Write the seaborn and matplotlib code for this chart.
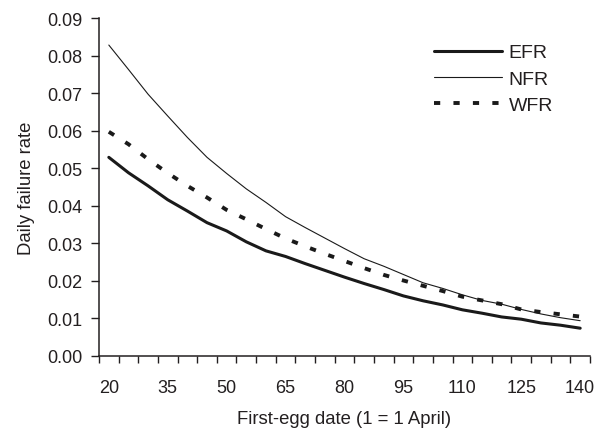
import matplotlib
matplotlib.use("Agg")
import matplotlib.pyplot as plt
import seaborn as sns
import pandas as pd
import numpy as np

# ---- data ----
days = [20, 25, 30, 35, 40, 45, 50, 55, 60, 65, 70, 75, 80, 85, 90, 95,
        100, 105, 110, 115, 120, 125, 130, 135, 140]
efr = [0.0529, 0.0488, 0.0453, 0.0416, 0.0386, 0.0355, 0.0333, 0.0304, 0.0280,
       0.0265, 0.0246, 0.0228, 0.0210, 0.0193, 0.0177, 0.0160, 0.0147, 0.0136,
       0.0123, 0.0114, 0.0104, 0.0098, 0.0088, 0.0082, 0.0074]
nfr = [0.0828, 0.0763, 0.0697, 0.0639, 0.0582, 0.0529, 0.0486, 0.0445, 0.0409,
       0.0371, 0.0342, 0.0314, 0.0286, 0.0259, 0.0239, 0.0217, 0.0195, 0.0180,
       0.0163, 0.0148, 0.0138, 0.0124, 0.0112, 0.0102, 0.0094]
wfr = [0.0597, 0.0564, 0.0524, 0.0487, 0.0453, 0.0422, 0.0389, 0.0364, 0.0338,
       0.0313, 0.0292, 0.0272, 0.0253, 0.0234, 0.0216, 0.0201, 0.0187, 0.0173,
       0.0158, 0.0148, 0.0138, 0.0124, 0.0117, 0.0111, 0.0105]
series_names = ["EFR", "NFR", "WFR"]
x_labels = [20, 35, 50, 65, 80, 95, 110, 125, 140]
y_ticks = [0.00, 0.01, 0.02, 0.03, 0.04, 0.05, 0.06, 0.07, 0.08, 0.09]

df = pd.DataFrame({"day": days, "EFR": efr, "NFR": nfr, "WFR": wfr})

sns.set_style("white")
plt.rcParams["font.family"] = ["Liberation Sans", "DejaVu Sans"]
txt = "#231f20"

fig = plt.figure(figsize=(5.97, 4.31), dpi=100)
ax = fig.add_axes([99 / 597, 1 - 357 / 431, (590 - 99) / 597, (357 - 19) / 431])

styles = {
    "EFR": dict(lw=2.2, color="#1a1a1a"),
    "NFR": dict(lw=0.8, color="#1a1a1a"),
    "WFR": dict(lw=2.8, color="#1a1a1a", dashes=(1.6, 3.4)),
}
for name in series_names:
    st = styles[name]
    line_kw = dict(linewidth=st["lw"], color=st["color"])
    sns.lineplot(data=df, x="day", y=name, ax=ax, label=name, **line_kw)
    if "dashes" in st:
        ax.lines[-1].set_dashes(st["dashes"])
        ax.lines[-1].set_dash_capstyle("butt")

ax.set_xlim(17.5, 142.5)
ax.set_ylim(0, 0.09)

# y axis
ax.set_yticks(y_ticks)
ax.set_yticklabels([f"{v:.2f}" for v in y_ticks])
ax.tick_params(axis="y", which="major", direction="out", length=6, width=1.0,
               color=txt, pad=6, labelsize=13, labelcolor=txt, left=True)

# x axis: tick marks at category boundaries, labels at centres
ax.set_xticks(x_labels)
ax.set_xticklabels([str(v) for v in x_labels])
ax.set_xticks(np.arange(17.5, 143, 5), minor=True)
ax.tick_params(axis="x", which="major", length=0, pad=16.5, labelsize=13,
               labelcolor=txt)
ax.tick_params(axis="x", which="minor", direction="out", length=5, width=1.0,
               color=txt, bottom=True)

for s in ["top", "right"]:
    ax.spines[s].set_visible(False)
for s in ["left", "bottom"]:
    ax.spines[s].set_color(txt)
    ax.spines[s].set_linewidth(1.1)

ax.set_xlabel("First-egg date (1 = 1 April)", fontsize=13.3, color=txt, labelpad=10)
ax.set_ylabel("Daily failure rate", fontsize=13.3, color=txt, labelpad=9)

leg = ax.legend(loc="center left", bbox_to_anchor=(434 / 597, 1 - 80 / 431),
                bbox_transform=fig.transFigure, frameon=False, fontsize=14,
                handlelength=3.5, handletextpad=0.35, labelspacing=0.45,
                borderpad=0, borderaxespad=0)
for t in leg.get_texts():
    t.set_color(txt)

fig.savefig("out.png", dpi=100)
